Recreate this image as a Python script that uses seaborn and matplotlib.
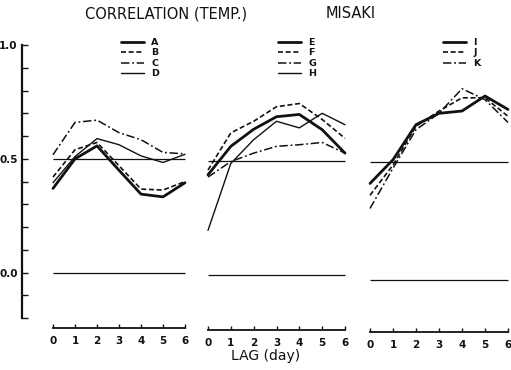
import matplotlib
matplotlib.use("Agg")
import matplotlib.pyplot as plt
import seaborn as sns
import pandas as pd

# ---------------- data ----------------
lags = [0, 1, 2, 3, 4, 5, 6]

A = [0.37, 0.50, 0.557, 0.45, 0.345, 0.333, 0.395]
B = [0.42, 0.54, 0.572, 0.47, 0.367, 0.363, 0.40]
C = [0.518, 0.66, 0.67, 0.615, 0.584, 0.528, 0.522]
D = [0.395, 0.51, 0.589, 0.562, 0.513, 0.484, 0.52]

E = [0.43, 0.555, 0.63, 0.685, 0.695, 0.628, 0.525]
F = [0.451, 0.614, 0.665, 0.729, 0.743, 0.673, 0.59]
G = [0.42, 0.488, 0.525, 0.555, 0.562, 0.572, 0.525]
H = [0.186, 0.48, 0.584, 0.665, 0.636, 0.70, 0.65]

I = [0.392, 0.496, 0.65, 0.70, 0.71, 0.776, 0.717]
J = [0.34, 0.473, 0.643, 0.71, 0.768, 0.768, 0.687]
K = [0.282, 0.459, 0.628, 0.70, 0.808, 0.76, 0.66]

panels = [
    [("A", A), ("B", B), ("C", C), ("D", D)],
    [("E", E), ("F", F), ("G", G), ("H", H)],
    [("I", I), ("J", J), ("K", K)],
]
sig_level = [0.50, 0.49, 0.487]      # horizontal reference line per panel
zero_level = [0.0, -0.012, -0.032]   # zero line per panel (as drawn)

y_tick_labels = ["1.0", "0.5", "0.0"]
title_left = "CORRELATION (TEMP.)"
title_right = "MISAKI"
x_label = "LAG (day)"

# ---------------- style ----------------
sns.set_theme(style="white")
plt.rcParams["font.family"] = ["DejaVu Sans"]

INK = "#111111"
styles = [
    dict(lw=2.0, linestyle="-"),
    dict(lw=1.2, linestyle=(0, (3.0, 1.6))),
    dict(lw=1.1, linestyle=(0, (5.5, 1.8, 1.2, 1.8))),
    dict(lw=1.0, linestyle="-"),
]

W, Hh = 511, 370
fig = plt.figure(figsize=(W / 100, Hh / 100), dpi=100)
fig.patch.set_facecolor("white")

ylo, yhi = -0.25, 1.02
top_px = 40.45
bot_px = 329.6
ax_bottom = (Hh - bot_px) / Hh
ax_height = (bot_px - top_px) / Hh

# panel geometry in pixels: (lag0 x, lag6 x)
geo = [(53, 185), (208, 345), (370, 508)]
legend_pos = [(121, 38.0), (278, 38.0), (443, 38.0)]
spine_shift = [0.007, 0.0, -0.01]

for p, series in enumerate(panels):
    x0, x6 = geo[p]
    unit = (x6 - x0) / 6.0
    left = x0 - 0.15 * unit
    width = 6.3 * unit
    ax = fig.add_axes([left / W, ax_bottom, width / W, ax_height])
    ax.set_facecolor("none")
    ax.set_xlim(-0.15, 6.15)
    ax.set_ylim(ylo, yhi)

    df = pd.DataFrame({"lag": lags})
    for k, (name, vals) in enumerate(series):
        df[name] = vals
        st = styles[k]
        sns.lineplot(data=df, x="lag", y=name, ax=ax, color=INK,
                     lw=st["lw"], linestyle=st["linestyle"], label=name,
                     clip_on=False)

    ax.hlines(sig_level[p], lags[0], lags[-1], color=INK, lw=0.9)
    ax.hlines(zero_level[p], lags[0], lags[-1], color=INK, lw=0.9)

    for s in ["top", "right", "left"]:
        ax.spines[s].set_visible(False)
    ax.spines["bottom"].set_color(INK)
    ax.spines["bottom"].set_linewidth(1.3)
    ax.spines["bottom"].set_bounds(lags[0], lags[-1])
    ax.spines["bottom"].set_position(("data", ylo + spine_shift[p]))
    ax.set_xticks(lags)
    ax.set_xticklabels([str(v) for v in lags], fontsize=7.5, fontweight="bold")
    ax.tick_params(axis="x", direction="in", length=3, width=1.0,
                   colors=INK, pad=6, bottom=True)
    ax.set_yticks([])
    ax.set_xlabel("")
    ax.set_ylabel("")

    lx, ly = legend_pos[p]
    leg = ax.legend(loc="upper left", bbox_to_anchor=(lx / W, 1 - ly / Hh),
                    bbox_transform=fig.transFigure, frameon=False,
                    fontsize=6.8, handlelength=2.4, handletextpad=0.8,
                    labelspacing=0.15, borderpad=0, borderaxespad=0)
    for t in leg.get_texts():
        t.set_fontweight("bold")
        t.set_color(INK)

# y axis
ay = fig.add_axes([21.7 / W, ax_bottom, 0.02, ax_height])
ay.set_facecolor("none")
ay.set_ylim(ylo, yhi)
ay.set_xticks([])
for s in ["top", "right", "bottom"]:
    ay.spines[s].set_visible(False)
ay.spines["left"].set_color(INK)
ay.spines["left"].set_linewidth(1.6)
ay.spines["left"].set_bounds(-0.2, 1.0)
yt = [round(-0.2 + 0.1 * i, 1) for i in range(13)]
ay.set_yticks(yt)
ay.set_yticklabels([("%.1f" % v) if ("%.1f" % v) in y_tick_labels else "" for v in yt],
                   fontsize=7.5, fontweight="bold")
ay.tick_params(axis="y", direction="in", length=4, width=1.0, colors=INK, pad=3,
               left=True)

fig.text(166 / W, 1 - 14 / Hh, title_left, ha="center", va="center",
         fontsize=10.5, color=INK)
fig.text(351 / W, 1 - 14 / Hh, title_right, ha="center", va="center",
         fontsize=10.5, color=INK)
fig.text(266 / W, 1 - 356 / Hh, x_label, ha="center", va="center",
         fontsize=10, color=INK)

fig.savefig("out.png", dpi=100, facecolor="white")
